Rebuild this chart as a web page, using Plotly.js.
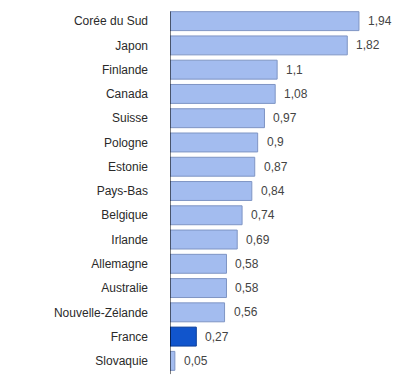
<!DOCTYPE html>
<html>
<head>
<meta charset="utf-8">
<script src="https://cdn.plot.ly/plotly-3.0.1.min.js"></script>
<style>html,body{margin:0;padding:0;background:#fff;}#chart{width:417px;height:383px;}</style>
</head>
<body>
<div id="chart"></div>
<script>
var countries = ["Corée du Sud","Japon","Finlande","Canada","Suisse","Pologne","Estonie","Pays-Bas","Belgique","Irlande","Allemagne","Australie","Nouvelle-Zélande","France","Slovaquie"];
var values = [1.94,1.82,1.1,1.08,0.97,0.9,0.87,0.84,0.74,0.69,0.58,0.58,0.56,0.27,0.05];
var valueLabels = ["1,94","1,82","1,1","1,08","0,97","0,9","0,87","0,84","0,74","0,69","0,58","0,58","0,56","0,27","0,05"];
var highlight = "France";

var fills = countries.map(function(c){ return c === highlight ? "#1155cc" : "#a3bcef"; });
var borders = countries.map(function(c){ return c === highlight ? "#0d3f99" : "#7f95c4"; });

var trace = {
  type: "bar",
  orientation: "h",
  x: values,
  y: countries,
  marker: {color: fills, line: {color: borders, width: 1}},
  hoverinfo: "none"
};

var annotations = values.map(function(v, i){
  return {x: v, y: countries[i], xref: "x", yref: "y", text: valueLabels[i],
    showarrow: false, xanchor: "left", xshift: 7,
    font: {family: "Arial, 'Liberation Sans', sans-serif", size: 12, color: "#444444"}};
});

var layout = {
  width: 417, height: 383,
  margin: {l: 170, r: 7, t: 9, b: 10, pad: 0},
  paper_bgcolor: "#ffffff", plot_bgcolor: "#ffffff",
  showlegend: false,
  bargap: 0.22,
  font: {family: "Arial, 'Liberation Sans', sans-serif", size: 12, color: "#333333"},
  xaxis: {range: [0, 2.464], showgrid: false, zeroline: false, showticklabels: false, showline: false, ticks: "", fixedrange: true},
  yaxis: {type: "category", autorange: "reversed", showgrid: false, zeroline: false, showline: false, ticks: "", ticklabelstandoff: 21,
    tickfont: {family: "Arial, 'Liberation Sans', sans-serif", size: 12, color: "#2a2a2a"}, fixedrange: true},
  shapes: [{type: "line", xref: "x", yref: "paper", x0: 0, x1: 0, y0: -0.003, y1: 0.993, line: {color: "#000000", width: 1}}],
  annotations: annotations
};

Plotly.newPlot("chart", [trace], layout, {displayModeBar: false, staticPlot: true});
</script>
</body>
</html>
